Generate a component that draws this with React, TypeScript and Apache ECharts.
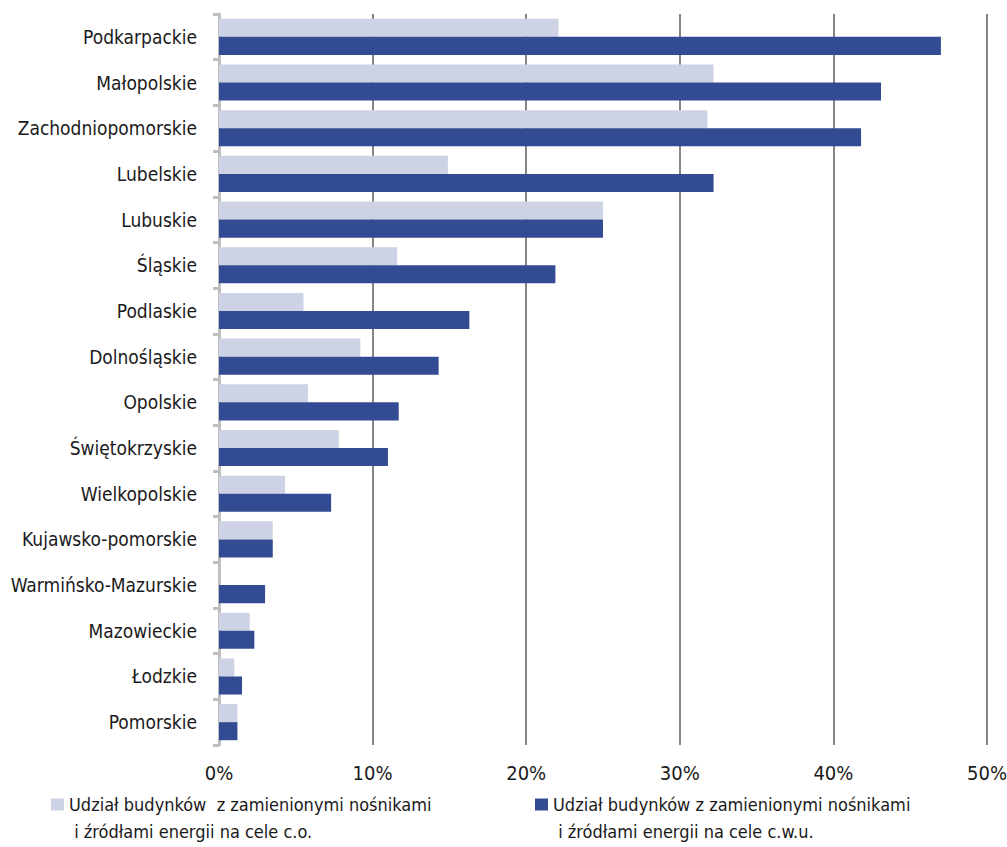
import React, { useEffect, useRef } from "react";
import * as echarts from "echarts";

const categories = [
  "Podkarpackie",
  "Małopolskie",
  "Zachodniopomorskie",
  "Lubelskie",
  "Lubuskie",
  "Śląskie",
  "Podlaskie",
  "Dolnośląskie",
  "Opolskie",
  "Świętokrzyskie",
  "Wielkopolskie",
  "Kujawsko-pomorskie",
  "Warmińsko-Mazurskie",
  "Mazowieckie",
  "Łodzkie",
  "Pomorskie",
];

const coValues = [22.1, 32.2, 31.8, 14.9, 25.0, 11.6, 5.5, 9.2, 5.8, 7.8, 4.3, 3.5, 0, 2.0, 1.0, 1.2];
const cwuValues = [47.0, 43.1, 41.8, 32.2, 25.0, 21.9, 16.3, 14.3, 11.7, 11.0, 7.3, 3.5, 3.0, 2.3, 1.5, 1.2];

const seriesNames = [
  "Udział budynków  z zamienionymi nośnikami\n i źródłami energii na cele c.o.",
  "Udział budynków z zamienionymi nośnikami\n i źródłami energii na cele c.w.u.",
];

const FONT = '"DejaVu Sans Condensed", "Liberation Sans Narrow", sans-serif';
const LIGHT = "#cdd2e4";
const DARK = "#334b93";

export default function App() {
  const ref = useRef<HTMLDivElement>(null);
  useEffect(() => {
    document.body.style.margin = "0";
    if (!ref.current) return;
    const chart = echarts.init(ref.current, null, { renderer: "svg" });
    const legendText = {
      fontFamily: FONT,
      fontSize: 18,
      color: "#1a1a1a",
      lineHeight: 27,
    };
    const legendBase = {
      icon: "rect",
      itemWidth: 13,
      itemHeight: 12,
      itemGap: 5,
      top: 759,
      formatter: (name: string) => "\n" + name,
      textStyle: legendText,
    };
    chart.setOption({
      animation: false,
      backgroundColor: "#ffffff",
      textStyle: { fontFamily: FONT },
      grid: {
        left: 219,
        right: 20,
        top: 14,
        bottom: 102,
        containLabel: false,
        outerBoundsMode: "none",
      },
      legend: [
        { ...legendBase, data: [seriesNames[0]], left: 46 },
        { ...legendBase, data: [seriesNames[1]], left: 530 },
      ],
      xAxis: {
        type: "value",
        min: 0,
        max: 50,
        interval: 10,
        axisLine: { show: false },
        axisTick: { show: false },
        axisLabel: {
          formatter: "{value}%",
          fontFamily: FONT,
          fontSize: 20,
          color: "#1a1a1a",
          margin: 18,
        },
        splitLine: { show: true, lineStyle: { color: "#858585", width: 2 } },
      },
      yAxis: {
        type: "category",
        data: categories,
        inverse: true,
        axisLine: { show: true, lineStyle: { color: "#bfbfbf", width: 3 } },
        axisTick: { show: true, length: 6, lineStyle: { color: "#bfbfbf", width: 3 } },
        axisLabel: {
          fontFamily: FONT,
          fontSize: 19,
          color: "#1a1a1a",
          margin: 22,
        },
        splitLine: { show: false },
      },
      series: [
        {
          name: seriesNames[0],
          type: "bar",
          data: coValues,
          itemStyle: { color: LIGHT },
          barGap: "0%",
          barCategoryGap: "21%",
        },
        {
          name: seriesNames[1],
          type: "bar",
          data: cwuValues,
          itemStyle: { color: DARK },
          barGap: "0%",
          barCategoryGap: "21%",
        },
      ],
    });
    return () => chart.dispose();
  }, []);
  return <div ref={ref} style={{ width: 1007, height: 847 }} />;
}
